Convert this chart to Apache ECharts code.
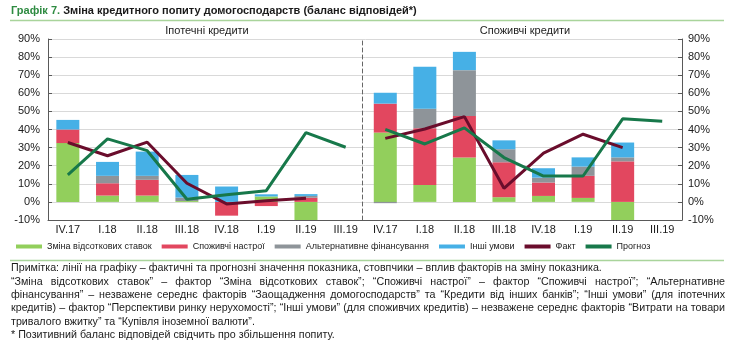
<!DOCTYPE html>
<html><head><meta charset="utf-8">
<script src="https://cdn.jsdelivr.net/npm/echarts@6/dist/echarts.min.js"></script>
<style>html,body{margin:0;padding:0;background:#fff}#c{width:750px;height:343px}</style>
</head><body><div id="c"></div>
<script>
// ---- data ----
const categories = ['IV.17', 'I.18', 'II.18', 'III.18', 'IV.18', 'I.19', 'II.19', 'III.19'];
const seriesNames = ['Зміна відсоткових ставок', 'Споживчі настрої', 'Альтернативне фінансування', 'Інші умови', 'Факт', 'Прогноз'];
const panelTitles = ['Іпотечні кредити', 'Споживчі кредити'];
// Mortgage loans (left)
const mortRates     = [32.5, 3.5, 3.5, 0.5, 0, 3.0, -12, null];
const mortSentiment = [7.5, 6.8, 8.7, 0, -7.6, -2.3, 2.3, null];
const mortAltFin    = [0, 4.1, 2.2, 1.9, 0, 0, 1.0, null];
const mortOther     = [5.3, 7.7, 13.4, 12.5, 8.5, 1.2, 1.0, null];
const mortFact      = [32.8, 25.5, 33.0, 10.3, -1.1, 0.7, 2.0, null];
const mortForecast  = [14.9, 34.8, 28.3, 1.5, 4.0, 6.2, 38.3, 30.2];
// Consumer loans (right)
const consRates     = [38.3, 9.4, 24.5, 2.6, 3.3, 2.2, -12, null];
const consSentiment = [16.0, 31.3, 23.0, 19.3, 7.4, 12.2, 22.4, null];
const consAltFin    = [-0.7, 10.8, 25.3, 7.2, 2.7, 5.1, 2.2, null];
const consOther     = [6.0, 23.1, 10.1, 4.9, 5.2, 5.1, 8.2, null];
const consFact      = [35.1, 40.3, 47.1, 7.5, 27.0, 37.4, 30.0, null];
const consForecast  = [40.1, 32.0, 40.9, 24.5, 14.3, 14.3, 45.9, 44.6];

const titleLead = 'Графік 7.';
const titleText = 'Зміна кредитного попиту домогосподарств (баланс відповідей*)';
const noteLines = [
  ['Примітка: лінії на графіку – фактичні та прогнозні значення показника, стовпчики – вплив факторів на зміну показника.', false],
  ['“Зміна відсоткових ставок” – фактор “Зміна відсоткових ставок”; “Споживчі настрої” – фактор “Споживчі настрої”; “Альтернативне', true],
  ['фінансування” – незважене середнє факторів “Заощадження домогосподарств” та “Кредити від інших банків”; “Інші умови” (для іпотечних', true],
  ['кредитів) – фактор “Перспективи ринку нерухомості”; “Інші умови” (для споживчих кредитів) – незважене середнє факторів “Витрати на товари', true],
  ['тривалого вжитку” та “Купівля іноземної валюти”.', false],
  ['* Позитивний баланс відповідей свідчить про збільшення попиту.', false]
];

// ---- styles ----
const colors = ['#92cf5c', '#e2475f', '#8e9499', '#46b0e6', '#6a0d2c', '#17784a'];
const F = '"Liberation Sans", Arial, sans-serif';
const axisColor = '#595959';

const chart = echarts.init(document.getElementById('c'), null, {renderer: 'canvas'});
const mctx = document.createElement('canvas').getContext('2d');
function measure(t, font) { mctx.font = font; return mctx.measureText(t).width; }

const graphics = [];
// title
graphics.push({type: 'text', x: 11, y: 11, style: {text: titleLead, fontSize: 11, fontWeight: 'bold', fontFamily: F, fill: '#2e8b41', verticalAlign: 'middle'}});
const leadW = measure(titleLead + ' ', 'bold 11px ' + F);
graphics.push({type: 'text', x: 11 + leadW, y: 11, style: {text: titleText, fontSize: 11, fontWeight: 'bold', fontFamily: F, fill: '#1a1a1a', verticalAlign: 'middle'}});
// rules
graphics.push({type: 'line', shape: {x1: 10, y1: 20.5, x2: 724, y2: 20.5}, style: {stroke: '#a9d49b', lineWidth: 1.5}});
graphics.push({type: 'line', shape: {x1: 10, y1: 260.5, x2: 724, y2: 260.5}, style: {stroke: '#a9d49b', lineWidth: 1.5}});
// panel titles
graphics.push({type: 'text', x: 207, y: 31, style: {text: panelTitles[0], fontSize: 11, fontFamily: F, fill: '#222', align: 'center', verticalAlign: 'middle'}});
graphics.push({type: 'text', x: 525, y: 31, style: {text: panelTitles[1], fontSize: 11, fontFamily: F, fill: '#222', align: 'center', verticalAlign: 'middle'}});
// notes (condensed look via horizontal scale)
const noteSize = 11.5, noteScale = 0.93, noteLeft = 11, noteRight = 725, noteTop = 268, noteStep = 13.4;
const noteFont = noteSize + 'px ' + F;
noteLines.forEach(([txt, just], i) => {
  const y = noteTop + i * noteStep;
  if (!just) {
    graphics.push({type: 'text', x: noteLeft, y: y, scaleX: noteScale, style: {text: txt, fontSize: noteSize, fontFamily: F, fill: '#1a1a1a', verticalAlign: 'middle'}});
  } else {
    const words = txt.split(' ');
    const ws = words.map(w => measure(w, noteFont) * noteScale);
    const total = ws.reduce((a, b) => a + b, 0);
    const gap = (noteRight - noteLeft - total) / (words.length - 1);
    let x = noteLeft;
    words.forEach((w, k) => {
      graphics.push({type: 'text', x: x, y: y, scaleX: noteScale, style: {text: w, fontSize: noteSize, fontFamily: F, fill: '#1a1a1a', verticalAlign: 'middle'}});
      x += ws[k] + gap;
    });
  }
});

function barSeries(name, data, idx, stack, gi) {
  return {name: name, type: 'bar', stack: stack, xAxisIndex: gi, yAxisIndex: gi, data: data,
    barWidth: 23, itemStyle: {color: colors[idx]}, emphasis: {disabled: true}, animation: false};
}
function lineSeries(name, data, idx, gi) {
  return {name: name, type: 'line', xAxisIndex: gi, yAxisIndex: gi, data: data, symbol: 'none',
    lineStyle: {color: colors[idx], width: 3}, itemStyle: {color: colors[idx]}, connectNulls: false, z: 5, animation: false};
}

const yBase = {type: 'value', min: -10, max: 90, interval: 10,
  axisLine: {show: true, lineStyle: {color: axisColor, width: 1}},
  axisTick: {show: true, inside: true, length: 4, lineStyle: {color: axisColor}},
  axisLabel: {formatter: '{value}%', fontSize: 11, fontFamily: F, color: '#1a1a1a'},
  splitLine: {show: true, lineStyle: {color: '#d9d9d9', width: 1}}};
const xBase = {type: 'category', data: categories,
  axisLine: {show: true, onZero: false, lineStyle: {color: axisColor, width: 1}},
  axisTick: {show: false},
  axisLabel: {fontSize: 11, fontFamily: F, color: '#1a1a1a', margin: 4, interval: 0},
  splitLine: {show: false}};

const option = {
  animation: false,
  backgroundColor: '#fff',
  grid: [
    {left: 48, right: 750 - 365.5, top: 39, bottom: 343 - 220, containLabel: false, outerBoundsMode: 'none'},
    {left: 365.5, right: 750 - 682, top: 39, bottom: 343 - 220, containLabel: false, outerBoundsMode: 'none'}
  ],
  xAxis: [Object.assign({}, xBase, {gridIndex: 0}), Object.assign({}, xBase, {gridIndex: 1})],
  yAxis: [
    Object.assign({}, yBase, {gridIndex: 0, position: 'left', axisLabel: Object.assign({}, yBase.axisLabel, {margin: 8})}),
    Object.assign({}, yBase, {gridIndex: 1, position: 'right', axisLabel: Object.assign({}, yBase.axisLabel, {margin: 6})}),
    {type: 'value', gridIndex: 1, position: 'left', offset: 3.5, min: -10, max: 90, interval: 10,
      axisLine: {show: true, lineStyle: {color: '#666', type: [4, 3], width: 1}},
      axisTick: {show: false}, axisLabel: {show: false}, splitLine: {show: false}}
  ],
  legend: {
    left: 16, top: 242, itemWidth: 26, itemHeight: 4, itemGap: 10, padding: 0,
    textStyle: {fontSize: 9, fontFamily: F, color: '#1a1a1a'},
    data: seriesNames.map(n => ({name: n, icon: 'rect'})),
    selectedMode: false
  },
  series: [
    barSeries(seriesNames[0], mortRates, 0, 'm', 0),
    barSeries(seriesNames[1], mortSentiment, 1, 'm', 0),
    barSeries(seriesNames[2], mortAltFin, 2, 'm', 0),
    barSeries(seriesNames[3], mortOther, 3, 'm', 0),
    lineSeries(seriesNames[4], mortFact, 4, 0),
    lineSeries(seriesNames[5], mortForecast, 5, 0),
    barSeries(seriesNames[0], consRates, 0, 'c', 1),
    barSeries(seriesNames[1], consSentiment, 1, 'c', 1),
    barSeries(seriesNames[2], consAltFin, 2, 'c', 1),
    barSeries(seriesNames[3], consOther, 3, 'c', 1),
    lineSeries(seriesNames[4], consFact, 4, 1),
    lineSeries(seriesNames[5], consForecast, 5, 1)
  ],
  graphic: graphics
};
chart.setOption(option);
</script></body></html>
